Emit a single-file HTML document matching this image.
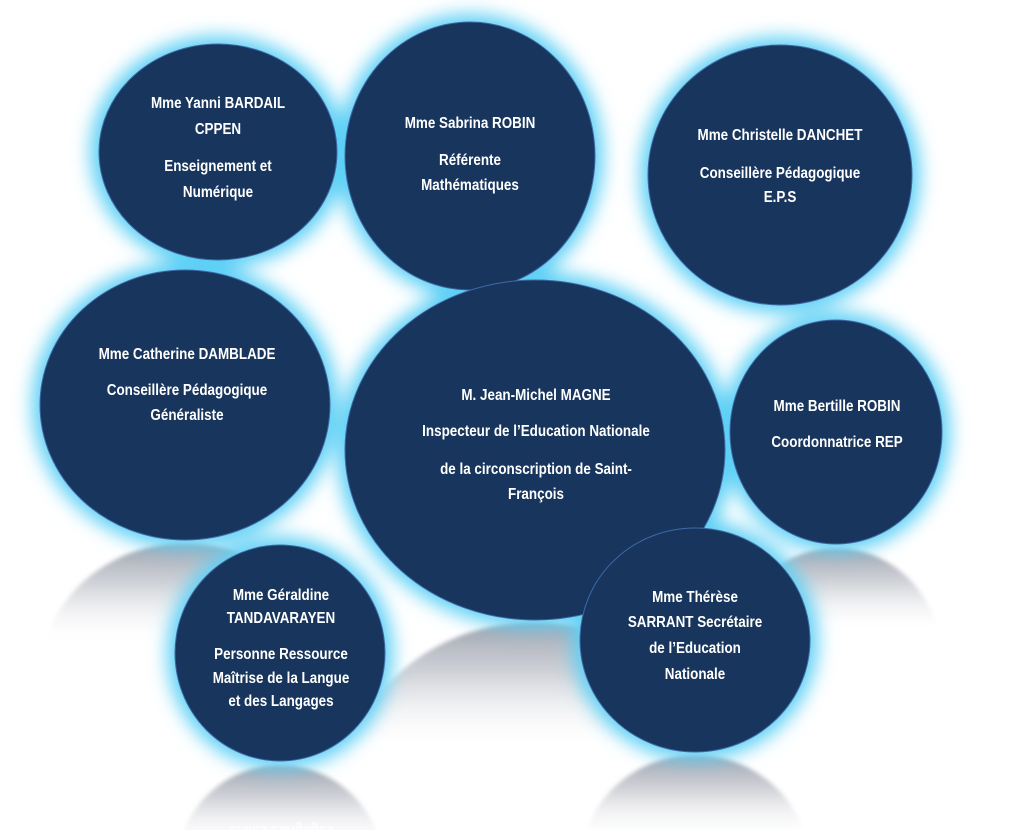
<!DOCTYPE html>
<html><head><meta charset="utf-8"><style>
body{margin:0;background:#fff;width:1024px;height:830px;overflow:hidden}
svg{display:block;overflow:hidden}
text{font-family:"Liberation Sans",sans-serif;font-weight:bold;fill:#fff;font-size:16px;text-anchor:middle;transform-box:fill-box;transform-origin:center;transform:scaleX(0.84)}
</style></head><body>
<svg width="1024" height="830" viewBox="0 0 1024 830">
<defs>
<filter id="g" x="-30%" y="-30%" width="160%" height="160%"><feGaussianBlur stdDeviation="9"/></filter>
<filter id="s" x="-30%" y="-30%" width="160%" height="160%"><feGaussianBlur stdDeviation="2"/></filter>
<linearGradient id="r" x1="0" y1="0" x2="0" y2="1"><stop offset="0" stop-color="#9ea3ae" stop-opacity="1"/><stop offset="0.15" stop-color="#c4c7ce" stop-opacity="0.8"/><stop offset="0.38" stop-color="#fff" stop-opacity="0"/></linearGradient>
</defs>
<!-- reflections -->
<g filter="url(#s)">
<ellipse cx="185" cy="678" rx="145" ry="135" fill="url(#r)"/>
<ellipse cx="836" cy="660" rx="106" ry="112" fill="url(#r)"/>
<ellipse cx="535" cy="792" rx="190" ry="170" fill="url(#r)"/>
<ellipse cx="280" cy="873" rx="105" ry="108" fill="url(#r)"/>
<ellipse cx="695" cy="867" rx="115" ry="112" fill="url(#r)"/>
</g>
<g transform="translate(0,1646) scale(1,-1)"><text x="281" y="820" style="opacity:0.85">et des Langages</text></g>
<!-- glows -->
<g fill="#5fd0f5" filter="url(#g)">
<ellipse cx="218" cy="152" rx="128" ry="116"/>
<ellipse cx="470" cy="156" rx="133" ry="142"/>
<ellipse cx="780" cy="175" rx="140" ry="138"/>
<ellipse cx="185" cy="405" rx="153" ry="143"/>
<ellipse cx="535" cy="450" rx="198" ry="178"/>
<ellipse cx="836" cy="432" rx="114" ry="120"/>
<ellipse cx="280" cy="653" rx="113" ry="116"/>
<ellipse cx="695" cy="640" rx="123" ry="120"/>
</g>
<g fill="#18365d" stroke="#3d6aa8" stroke-width="1">
<ellipse cx="218" cy="152" rx="119" ry="108"/>
<ellipse cx="470" cy="156" rx="125" ry="134"/>
<ellipse cx="780" cy="175" rx="132" ry="130"/>
<ellipse cx="185" cy="405" rx="145" ry="135"/>
<ellipse cx="535" cy="450" rx="190" ry="170"/>
<ellipse cx="836" cy="432" rx="106" ry="112"/>
<ellipse cx="280" cy="653" rx="105" ry="108"/>
<ellipse cx="695" cy="640" rx="115" ry="112"/>
</g>
<g>
<text x="218" y="108">Mme Yanni BARDAIL</text>
<text x="218" y="134">CPPEN</text>
<text x="218" y="171">Enseignement et</text>
<text x="218" y="197">Numérique</text>

<text x="470" y="128">Mme Sabrina ROBIN</text>
<text x="470" y="165">Référente</text>
<text x="470" y="190">Mathématiques</text>

<text x="780" y="140">Mme Christelle DANCHET</text>
<text x="780" y="178">Conseillère Pédagogique</text>
<text x="780" y="202">E.P.S</text>

<text x="187" y="359">Mme Catherine DAMBLADE</text>
<text x="187" y="395">Conseillère Pédagogique</text>
<text x="187" y="420">Généraliste</text>

<text x="536" y="400">M. Jean-Michel MAGNE</text>
<text x="536" y="436">Inspecteur de l’Education Nationale</text>
<text x="536" y="474">de la circonscription de Saint-</text>
<text x="536" y="499">François</text>

<text x="837" y="411">Mme Bertille ROBIN</text>
<text x="837" y="447">Coordonnatrice REP</text>

<text x="281" y="600">Mme Géraldine</text>
<text x="281" y="623">TANDAVARAYEN</text>
<text x="281" y="659">Personne Ressource</text>
<text x="281" y="683">Maîtrise de la Langue</text>
<text x="281" y="706">et des Langages</text>

<text x="695" y="602">Mme Thérèse</text>
<text x="695" y="627">SARRANT Secrétaire</text>
<text x="695" y="653">de l’Education</text>
<text x="695" y="679">Nationale</text>
</g>
</svg>
</body></html>
